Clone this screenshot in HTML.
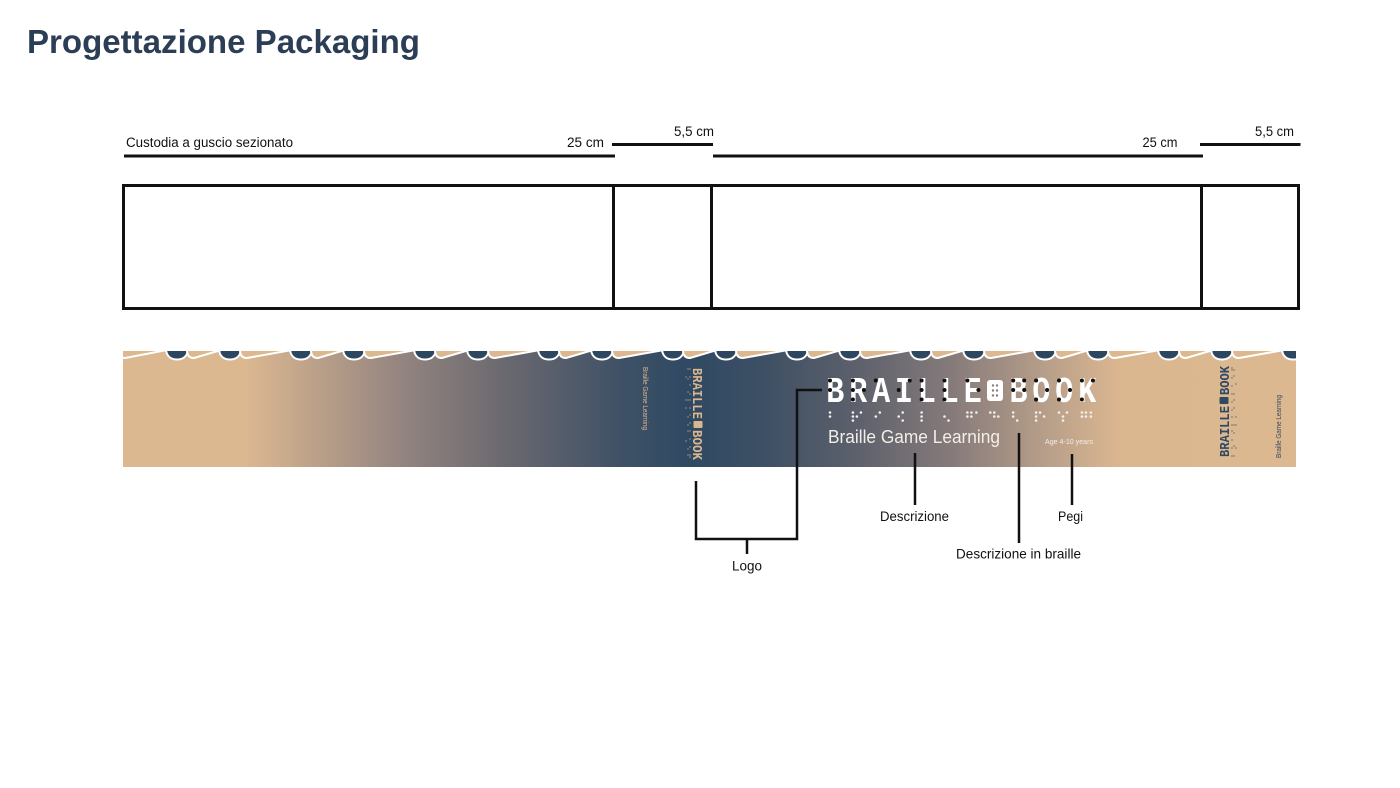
<!DOCTYPE html>
<html><head><meta charset="utf-8"><style>
html,body{margin:0;padding:0;background:#fff;}
svg{display:block;}
text{font-family:"Liberation Sans",sans-serif;}
.m{font-family:"Liberation Mono",monospace;font-weight:bold;}
</style></head><body>
<svg width="1400" height="788" viewBox="0 0 1400 788" xmlns="http://www.w3.org/2000/svg">
<defs>
<linearGradient id="g" gradientUnits="userSpaceOnUse" x1="123" y1="0" x2="1296" y2="0">
<stop offset="0" stop-color="#dcb891"/>
<stop offset="0.104" stop-color="#dcb891"/>
<stop offset="0.236" stop-color="#948580"/>
<stop offset="0.321" stop-color="#6c6a70"/>
<stop offset="0.424" stop-color="#3f5166"/>
<stop offset="0.483" stop-color="#2f4963"/>
<stop offset="0.543" stop-color="#3d4f64"/>
<stop offset="0.620" stop-color="#5a5f6b"/>
<stop offset="0.705" stop-color="#857a7a"/>
<stop offset="0.790" stop-color="#b9a08a"/>
<stop offset="0.850" stop-color="#dbb790"/>
<stop offset="1" stop-color="#dcb891"/>
</linearGradient>
<clipPath id="cp"><rect x="123" y="350" width="1173" height="117"/></clipPath>
</defs>

<!-- Title -->
<text x="27" y="53" font-size="33" font-weight="bold" fill="#2c3e55" textLength="393" lengthAdjust="spacingAndGlyphs">Progettazione Packaging</text>

<!-- Dimension labels -->
<g fill="#111" font-size="13.5">
<text x="126" y="147" textLength="167" lengthAdjust="spacingAndGlyphs">Custodia a guscio sezionato</text>
<text x="567" y="147" textLength="37" lengthAdjust="spacingAndGlyphs">25 cm</text>
<text x="674" y="136" textLength="40" lengthAdjust="spacingAndGlyphs">5,5 cm</text>
<text x="1142.5" y="147" textLength="35" lengthAdjust="spacingAndGlyphs">25 cm</text>
<text x="1255" y="136" textLength="39" lengthAdjust="spacingAndGlyphs">5,5 cm</text>
</g>
<g stroke="#111" stroke-width="3" fill="none">
<line x1="124" y1="156" x2="615" y2="156"/>
<line x1="612" y1="144.5" x2="713" y2="144.5"/>
<line x1="713" y1="156" x2="1203" y2="156"/>
<line x1="1200" y1="144.5" x2="1300.5" y2="144.5"/>
<!-- Box -->
<rect x="123.5" y="185.5" width="1175" height="123"/>
<line x1="613.5" y1="185.5" x2="613.5" y2="308.5"/>
<line x1="711.5" y1="185.5" x2="711.5" y2="308.5"/>
<line x1="1201.5" y1="185.5" x2="1201.5" y2="308.5"/>
</g>

<!-- Packaging strip -->
<g clip-path="url(#cp)">
<rect x="123" y="350" width="1173" height="117" fill="url(#g)"/>
<g fill="#2d4760" stroke="#fff" stroke-width="2">
<path d="M166,350 C167,358 173,359.5 177,359.5 C181,359.5 187,358 188,350 Z"/>
<path d="M219,350 C220,358 226,359.5 230,359.5 C234,359.5 240,358 241,350 Z"/>
<path d="M290,350 C291,358 297,359.5 301,359.5 C305,359.5 311,358 312,350 Z"/>
<path d="M343,350 C344,358 350,359.5 354,359.5 C358,359.5 364,358 365,350 Z"/>
<path d="M414,350 C415,358 421,359.5 425,359.5 C429,359.5 435,358 436,350 Z"/>
<path d="M467,350 C468,358 474,359.5 478,359.5 C482,359.5 488,358 489,350 Z"/>
<path d="M538,350 C539,358 545,359.5 549,359.5 C553,359.5 559,358 560,350 Z"/>
<path d="M591,350 C592,358 598,359.5 602,359.5 C606,359.5 612,358 613,350 Z"/>
<path d="M662,350 C663,358 669,359.5 673,359.5 C677,359.5 683,358 684,350 Z"/>
<path d="M715,350 C716,358 722,359.5 726,359.5 C730,359.5 736,358 737,350 Z"/>
<path d="M786,350 C787,358 793,359.5 797,359.5 C801,359.5 807,358 808,350 Z"/>
<path d="M839,350 C840,358 846,359.5 850,359.5 C854,359.5 860,358 861,350 Z"/>
<path d="M910,350 C911,358 917,359.5 921,359.5 C925,359.5 931,358 932,350 Z"/>
<path d="M963,350 C964,358 970,359.5 974,359.5 C978,359.5 984,358 985,350 Z"/>
<path d="M1034,350 C1035,358 1041,359.5 1045,359.5 C1049,359.5 1055,358 1056,350 Z"/>
<path d="M1087,350 C1088,358 1094,359.5 1098,359.5 C1102,359.5 1108,358 1109,350 Z"/>
<path d="M1158,350 C1159,358 1165,359.5 1169,359.5 C1173,359.5 1179,358 1180,350 Z"/>
<path d="M1211,350 C1212,358 1218,359.5 1222,359.5 C1226,359.5 1232,358 1233,350 Z"/>
<path d="M1282,350 C1283,358 1289,359.5 1293,359.5 C1297,359.5 1303,358 1304,350 Z"/>
</g>
<g fill="#dcb891" stroke="#fff" stroke-width="2" stroke-linejoin="round">
<path d="M118,350 Q118,358 125,358 L167,350 Z"/>
<path d="M187,350 Q187,358 194,358 L221,350 Z"/>
<path d="M240,350 Q240,358 247,358 L292,350 Z"/>
<path d="M311,350 Q311,358 318,358 L345,350 Z"/>
<path d="M364,350 Q364,358 371,358 L416,350 Z"/>
<path d="M435,350 Q435,358 442,358 L469,350 Z"/>
<path d="M488,350 Q488,358 495,358 L540,350 Z"/>
<path d="M559,350 Q559,358 566,358 L593,350 Z"/>
<path d="M612,350 Q612,358 619,358 L664,350 Z"/>
<path d="M683,350 Q683,358 690,358 L717,350 Z"/>
<path d="M736,350 Q736,358 743,358 L788,350 Z"/>
<path d="M807,350 Q807,358 814,358 L841,350 Z"/>
<path d="M860,350 Q860,358 867,358 L912,350 Z"/>
<path d="M931,350 Q931,358 938,358 L965,350 Z"/>
<path d="M984,350 Q984,358 991,358 L1036,350 Z"/>
<path d="M1055,350 Q1055,358 1062,358 L1089,350 Z"/>
<path d="M1108,350 Q1108,358 1115,358 L1160,350 Z"/>
<path d="M1179,350 Q1179,358 1186,358 L1213,350 Z"/>
<path d="M1232,350 Q1232,358 1239,358 L1284,350 Z"/>
</g>
</g>

<!-- Front logo -->
<g fill="#ffffff" font-size="36" class="m">
<text class="m" x="826.3" y="402" textLength="18" lengthAdjust="spacingAndGlyphs">B</text>
<text class="m" x="849.2" y="402" textLength="18" lengthAdjust="spacingAndGlyphs">R</text>
<text class="m" x="872.1" y="402" textLength="18" lengthAdjust="spacingAndGlyphs">A</text>
<text class="m" x="895" y="402" textLength="18" lengthAdjust="spacingAndGlyphs">I</text>
<text class="m" x="917.9" y="402" textLength="18" lengthAdjust="spacingAndGlyphs">L</text>
<text class="m" x="940.8" y="402" textLength="18" lengthAdjust="spacingAndGlyphs">L</text>
<text class="m" x="963.7" y="402" textLength="18" lengthAdjust="spacingAndGlyphs">E</text>
<text class="m" x="1009.5" y="402" textLength="18" lengthAdjust="spacingAndGlyphs">B</text>
<text class="m" x="1032.4" y="402" textLength="18" lengthAdjust="spacingAndGlyphs">O</text>
<text class="m" x="1055.3" y="402" textLength="18" lengthAdjust="spacingAndGlyphs">O</text>
<text class="m" x="1078.2" y="402" textLength="18" lengthAdjust="spacingAndGlyphs">K</text>
</g>
<rect x="987" y="380" width="16" height="21" rx="3" fill="#fff"/>
<g fill="#8a7d78">
<circle cx="993" cy="385.5" r="1.2"/><circle cx="997" cy="385.5" r="1.2"/>
<circle cx="993" cy="390.5" r="1.2"/><circle cx="997" cy="390.5" r="1.2"/>
<circle cx="993" cy="395.5" r="1.2"/><circle cx="997" cy="395.5" r="1.2"/>
</g>
<!-- black dots on letters -->
<g fill="#111">
<circle cx="830" cy="380.5" r="2"/><circle cx="830" cy="390" r="2"/>
<circle cx="852.9" cy="380.5" r="2"/><circle cx="852.9" cy="390" r="2"/><circle cx="852.9" cy="399.5" r="2"/><circle cx="863.9" cy="390" r="2"/>
<circle cx="875.8" cy="380.5" r="2"/>
<circle cx="898.7" cy="390" r="2"/><circle cx="909.7" cy="380.5" r="2"/>
<circle cx="921.6" cy="380.5" r="2"/><circle cx="921.6" cy="390" r="2"/><circle cx="921.6" cy="399.5" r="2"/>
<circle cx="944.5" cy="380.5" r="2"/><circle cx="944.5" cy="390" r="2"/><circle cx="944.5" cy="399.5" r="2"/>
<circle cx="967.4" cy="380.5" r="2"/><circle cx="978.4" cy="390" r="2"/>
<circle cx="1013.2" cy="380.5" r="2"/><circle cx="1013.2" cy="390" r="2"/><circle cx="1024.2" cy="380.5" r="2"/><circle cx="1024.2" cy="390" r="2"/>
<circle cx="1036.1" cy="380.5" r="2"/><circle cx="1036.1" cy="399.5" r="2"/><circle cx="1047.1" cy="390" r="2"/>
<circle cx="1059" cy="380.5" r="2"/><circle cx="1059" cy="399.5" r="2"/><circle cx="1070" cy="390" r="2"/>
<circle cx="1081.9" cy="380.5" r="2"/><circle cx="1081.9" cy="399.5" r="2"/><circle cx="1092.9" cy="380.5" r="2"/>
</g>
<!-- braille row -->
<g fill="#f3eee7">
<circle cx="830" cy="412.5" r="1.3"/><circle cx="830" cy="416.5" r="1.3"/>
<circle cx="852.9" cy="412.5" r="1.3"/><circle cx="852.9" cy="416.5" r="1.3"/><circle cx="852.9" cy="420.5" r="1.3"/><circle cx="856.9" cy="416.5" r="1.3"/><circle cx="860.9" cy="412.5" r="1.3"/>
<circle cx="875.8" cy="416.5" r="1.3"/><circle cx="879.8" cy="412.5" r="1.3"/>
<circle cx="898.7" cy="416.5" r="1.3"/><circle cx="902.7" cy="412.5" r="1.3"/><circle cx="902.7" cy="420.5" r="1.3"/>
<circle cx="921.6" cy="412.5" r="1.3"/><circle cx="921.6" cy="416.5" r="1.3"/><circle cx="921.6" cy="420.5" r="1.3"/>
<circle cx="944.5" cy="416.5" r="1.3"/><circle cx="948.5" cy="420.5" r="1.3"/>
<circle cx="967.4" cy="412.5" r="1.3"/><circle cx="967.4" cy="416.5" r="1.3"/><circle cx="971.4" cy="412.5" r="1.3"/><circle cx="971.4" cy="416.5" r="1.3"/><circle cx="976.4" cy="412.5" r="1.3"/>
<circle cx="990.3" cy="412.5" r="1.3"/><circle cx="994.3" cy="412.5" r="1.3"/><circle cx="994.3" cy="416.5" r="1.3"/><circle cx="998.3" cy="416.5" r="1.3"/>
<circle cx="1013.2" cy="412.5" r="1.3"/><circle cx="1013.2" cy="416.5" r="1.3"/><circle cx="1017.2" cy="420.5" r="1.3"/>
<circle cx="1036.1" cy="412.5" r="1.3"/><circle cx="1036.1" cy="416.5" r="1.3"/><circle cx="1036.1" cy="420.5" r="1.3"/><circle cx="1040.1" cy="412.5" r="1.3"/><circle cx="1044.1" cy="416.5" r="1.3"/>
<circle cx="1059" cy="412.5" r="1.3"/><circle cx="1063" cy="416.5" r="1.3"/><circle cx="1063" cy="420.5" r="1.3"/><circle cx="1067" cy="412.5" r="1.3"/>
<circle cx="1081.9" cy="412.5" r="1.3"/><circle cx="1081.9" cy="416.5" r="1.3"/><circle cx="1085.9" cy="412.5" r="1.3"/><circle cx="1085.9" cy="416.5" r="1.3"/><circle cx="1090.9" cy="412.5" r="1.3"/><circle cx="1090.9" cy="416.5" r="1.3"/>
</g>
<text x="828" y="443" font-size="18.5" fill="#f3eee7" textLength="172" lengthAdjust="spacingAndGlyphs">Braille Game Learning</text>
<text x="1045" y="444" font-size="7.5" fill="#f3eee7" textLength="48" lengthAdjust="spacingAndGlyphs">Age 4-10 years</text>

<!-- Left spine -->
<text transform="translate(643,367) rotate(90)" font-size="7" fill="#dbb78f" textLength="63" lengthAdjust="spacingAndGlyphs">Braille Game Learning</text>
<g transform="translate(693,368) rotate(90)" fill="#dbb78f">
<text class="m" x="0" y="0" font-size="14" textLength="51" lengthAdjust="spacingAndGlyphs">BRAILLE</text>
<rect x="53" y="-9.5" width="7" height="9" rx="1"/>
<text class="m" x="62" y="0" font-size="14" textLength="30" lengthAdjust="spacingAndGlyphs">BOOK</text>
<g>
<circle cx="1" cy="3" r="0.6"/><circle cx="1" cy="5" r="0.6"/><circle cx="9" cy="3" r="0.6"/><circle cx="9" cy="7" r="0.6"/><circle cx="11" cy="5" r="0.6"/>
<circle cx="17" cy="3" r="0.6"/><circle cx="24" cy="5" r="0.6"/><circle cx="26" cy="3" r="0.6"/>
<circle cx="32" cy="3" r="0.6"/><circle cx="32" cy="5" r="0.6"/><circle cx="32" cy="7" r="0.6"/><circle cx="40" cy="3" r="0.6"/><circle cx="40" cy="7" r="0.6"/>
<circle cx="47" cy="3" r="0.6"/><circle cx="49" cy="5" r="0.6"/><circle cx="55" cy="3" r="0.6"/><circle cx="57" cy="5" r="0.6"/>
<circle cx="63" cy="3" r="0.6"/><circle cx="63" cy="5" r="0.6"/><circle cx="71" cy="3" r="0.6"/><circle cx="73" cy="7" r="0.6"/>
<circle cx="79" cy="3" r="0.6"/><circle cx="81" cy="5" r="0.6"/><circle cx="87" cy="3" r="0.6"/><circle cx="87" cy="5" r="0.6"/><circle cx="89" cy="3" r="0.6"/>
</g>
</g>

<!-- Right spine -->
<g transform="translate(1229,457) rotate(-90)" fill="#2f4963">
<text class="m" x="0" y="0" font-size="14" textLength="51" lengthAdjust="spacingAndGlyphs">BRAILLE</text>
<rect x="53" y="-9.5" width="7" height="9" rx="1"/>
<text class="m" x="62" y="0" font-size="14" textLength="29" lengthAdjust="spacingAndGlyphs">BOOK</text>
<g>
<circle cx="1" cy="3" r="0.6"/><circle cx="1" cy="5" r="0.6"/><circle cx="9" cy="3" r="0.6"/><circle cx="9" cy="7" r="0.6"/><circle cx="11" cy="5" r="0.6"/>
<circle cx="17" cy="3" r="0.6"/><circle cx="24" cy="5" r="0.6"/><circle cx="26" cy="3" r="0.6"/>
<circle cx="32" cy="3" r="0.6"/><circle cx="32" cy="5" r="0.6"/><circle cx="32" cy="7" r="0.6"/><circle cx="40" cy="3" r="0.6"/><circle cx="40" cy="7" r="0.6"/>
<circle cx="47" cy="3" r="0.6"/><circle cx="49" cy="5" r="0.6"/><circle cx="55" cy="3" r="0.6"/><circle cx="57" cy="5" r="0.6"/>
<circle cx="63" cy="3" r="0.6"/><circle cx="63" cy="5" r="0.6"/><circle cx="71" cy="3" r="0.6"/><circle cx="73" cy="7" r="0.6"/>
<circle cx="79" cy="3" r="0.6"/><circle cx="81" cy="5" r="0.6"/><circle cx="87" cy="3" r="0.6"/><circle cx="87" cy="5" r="0.6"/><circle cx="89" cy="3" r="0.6"/>
</g>
</g>
<text transform="translate(1281,458) rotate(-90)" font-size="7" fill="#3a4a5e" textLength="63" lengthAdjust="spacingAndGlyphs">Braille Game Learning</text>

<!-- Callouts -->
<g stroke="#111" stroke-width="2.5" fill="none">
<path d="M822,390 H797 V539 H696 V481"/>
<path d="M747,539 V554"/>
<path d="M915,453 V505"/>
<path d="M1019,433 V543"/>
<path d="M1072,454 V505"/>
</g>
<g fill="#111" font-size="14">
<text x="732" y="570.5" textLength="30" lengthAdjust="spacingAndGlyphs">Logo</text>
<text x="880" y="521" textLength="69" lengthAdjust="spacingAndGlyphs">Descrizione</text>
<text x="956" y="558.5" textLength="125" lengthAdjust="spacingAndGlyphs">Descrizione in braille</text>
<text x="1058" y="521" textLength="25" lengthAdjust="spacingAndGlyphs">Pegi</text>
</g>
</svg>
</body></html>
